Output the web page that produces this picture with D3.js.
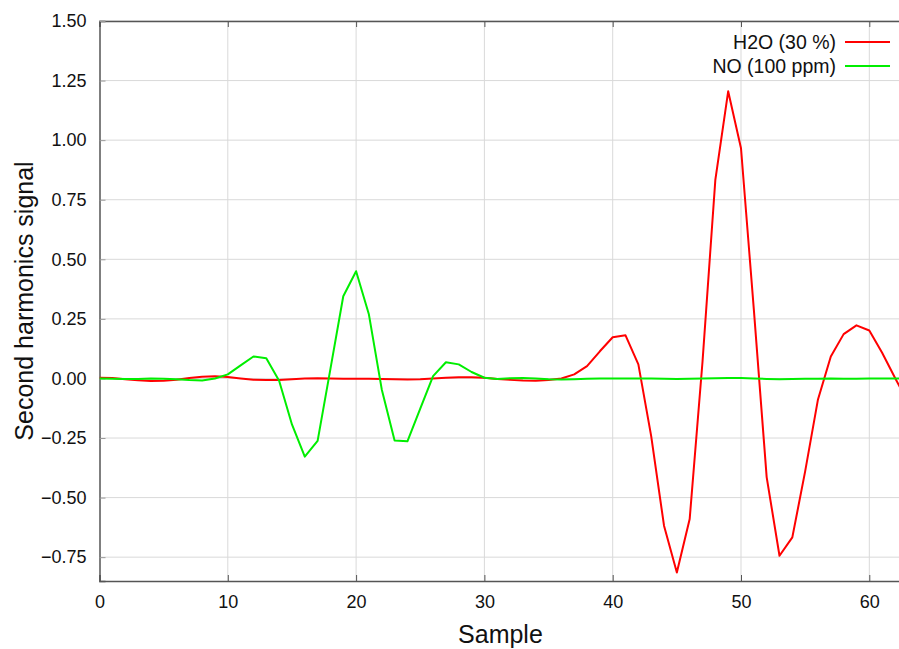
<!DOCTYPE html>
<html>
<head>
<meta charset="utf-8">
<script src="https://cdn.jsdelivr.net/npm/d3@7"></script>
<style>
  body { margin: 0; background: #fff; }
  svg { display: block; font-family: "Liberation Sans", Arial, sans-serif; }
</style>
</head>
<body>
<script>
// sample index 0..63
const samples = d3.range(0, 64);

const h2o = [0.003, 0.002, -0.003, -0.008, -0.011, -0.01, -0.005, 0.002, 0.007, 0.009,
  0.006, 0.0, -0.005, -0.007, -0.006, -0.003, 0.0, 0.001, 0.0, -0.001,
  -0.001, -0.001, -0.002, -0.003, -0.004, -0.003, 0.0, 0.003, 0.005, 0.005,
  0.003, -0.002, -0.006, -0.009, -0.01, -0.007, 0.0, 0.017, 0.052, 0.114,
  0.173, 0.181, 0.059, -0.242, -0.618, -0.814, -0.59, 0.07, 0.833, 1.205,
  0.966, 0.29, -0.414, -0.744, -0.667, -0.39, -0.088, 0.092, 0.186, 0.223,
  0.201, 0.108, 0.003, -0.1];

const no = [0.0, -0.001, -0.002, -0.002, 0.0, -0.001, -0.003, -0.007, -0.009, 0.0,
  0.017, 0.055, 0.092, 0.085, -0.01, -0.193, -0.328, -0.262, 0.04, 0.345,
  0.45, 0.268, -0.046, -0.26, -0.264, -0.127, 0.01, 0.068, 0.059, 0.027,
  0.003, -0.002, 0.001, 0.002, 0.0, -0.003, -0.004, -0.003, -0.001, 0.0,
  0.0, 0.0, 0.0, 0.0, -0.001, -0.002, -0.001, 0.0, 0.001, 0.002,
  0.002, 0.0, -0.002, -0.003, -0.002, -0.001, -0.001, 0.0, -0.001, -0.001,
  0.0, 0.0, 0.0, 0.0];

const xTicks = [0, 10, 20, 30, 40, 50, 60];
const yTicks = [-0.75, -0.5, -0.25, 0, 0.25, 0.5, 0.75, 1.0, 1.25, 1.5];

const seriesNames = ['H2O (30 %)', 'NO (100 ppm)'];
const seriesColors = ['#ff0000', '#00ee00'];

const width = 899, height = 649;
const plotLeft = 99.5, plotTop = 21, plotBottom = 581;

const svg = d3.select('body').append('svg')
  .attr('width', width)
  .attr('height', height);

const x = d3.scaleLinear().domain([0, 63]).range([plotLeft, plotLeft + 63 * 12.83]);
const y = d3.scaleLinear().domain([-0.85, 1.5]).range([plotBottom, plotTop]);

svg.append('clipPath').attr('id', 'plot')
  .append('rect')
  .attr('x', plotLeft).attr('y', plotTop)
  .attr('width', width - plotLeft).attr('height', plotBottom - plotTop);

// grid
svg.append('g')
  .selectAll('line')
  .data(xTicks.filter(d => d > 0))
  .join('line')
  .attr('x1', d => x(d)).attr('x2', d => x(d))
  .attr('y1', plotTop).attr('y2', plotBottom)
  .attr('stroke', '#d9d9d9').attr('stroke-width', 1);

svg.append('g')
  .selectAll('line')
  .data(yTicks)
  .join('line')
  .attr('x1', plotLeft).attr('x2', width)
  .attr('y1', d => y(d)).attr('y2', d => y(d))
  .attr('stroke', '#d9d9d9').attr('stroke-width', 1);

// axes
const xAxis = svg.append('g')
  .attr('transform', `translate(0,${plotBottom})`)
  .call(d3.axisBottom(x).tickValues(xTicks).tickSize(-6).tickPadding(14).tickFormat(d3.format('d')));
xAxis.select('.domain').attr('stroke', '#555').attr('stroke-width', 1.5);
xAxis.selectAll('.tick line').attr('stroke', '#555');
xAxis.selectAll('.tick text').attr('font-size', 18).attr('fill', '#111')
  .attr('font-family', '"Liberation Sans", Arial, sans-serif');

const xTop = svg.append('g')
  .attr('transform', `translate(0,${plotTop})`)
  .call(d3.axisTop(x).tickValues(xTicks).tickSize(-6).tickFormat(''));
xTop.select('.domain').attr('stroke', '#555').attr('stroke-width', 1.5);
xTop.selectAll('.tick line').attr('stroke', '#555');

const yAxis = svg.append('g')
  .attr('transform', `translate(${plotLeft},0)`)
  .call(d3.axisLeft(y).tickValues(yTicks).tickSize(-6).tickPadding(13).tickFormat(d3.format('.2f')));
yAxis.select('.domain').attr('stroke', '#555').attr('stroke-width', 1.5);
yAxis.selectAll('.tick line').attr('stroke', '#999');
yAxis.selectAll('.tick text').attr('font-size', 18).attr('fill', '#111')
  .attr('font-family', '"Liberation Sans", Arial, sans-serif');

// lines
const line = d3.line()
  .x((d, i) => x(samples[i]))
  .y(d => y(d));

const plot = svg.append('g').attr('clip-path', 'url(#plot)');
[h2o, no].forEach((s, k) => {
  plot.append('path')
    .datum(s)
    .attr('fill', 'none')
    .attr('stroke', seriesColors[k])
    .attr('stroke-width', 2)
    .attr('stroke-linejoin', 'round')
    .attr('d', line);
});

// legend
const legend = svg.append('g');
seriesNames.forEach((name, k) => {
  const ly = 42 + k * 24;
  legend.append('text')
    .attr('x', 836).attr('y', ly)
    .attr('dy', '0.35em')
    .attr('text-anchor', 'end')
    .attr('font-size', 19.5)
    .attr('fill', '#111')
    .text(name);
  legend.append('line')
    .attr('x1', 845).attr('x2', 890)
    .attr('y1', ly).attr('y2', ly)
    .attr('stroke', seriesColors[k]).attr('stroke-width', 2);
});

// axis titles
svg.append('text')
  .attr('x', x(31.25)).attr('y', 643)
  .attr('text-anchor', 'middle')
  .attr('font-size', 25)
  .attr('fill', '#111')
  .text('Sample');

svg.append('text')
  .attr('transform', `translate(33,${(plotTop + plotBottom) / 2}) rotate(-90)`)
  .attr('text-anchor', 'middle')
  .attr('font-size', 25)
  .attr('fill', '#111')
  .text('Second harmonics signal');
</script>
</body>
</html>
